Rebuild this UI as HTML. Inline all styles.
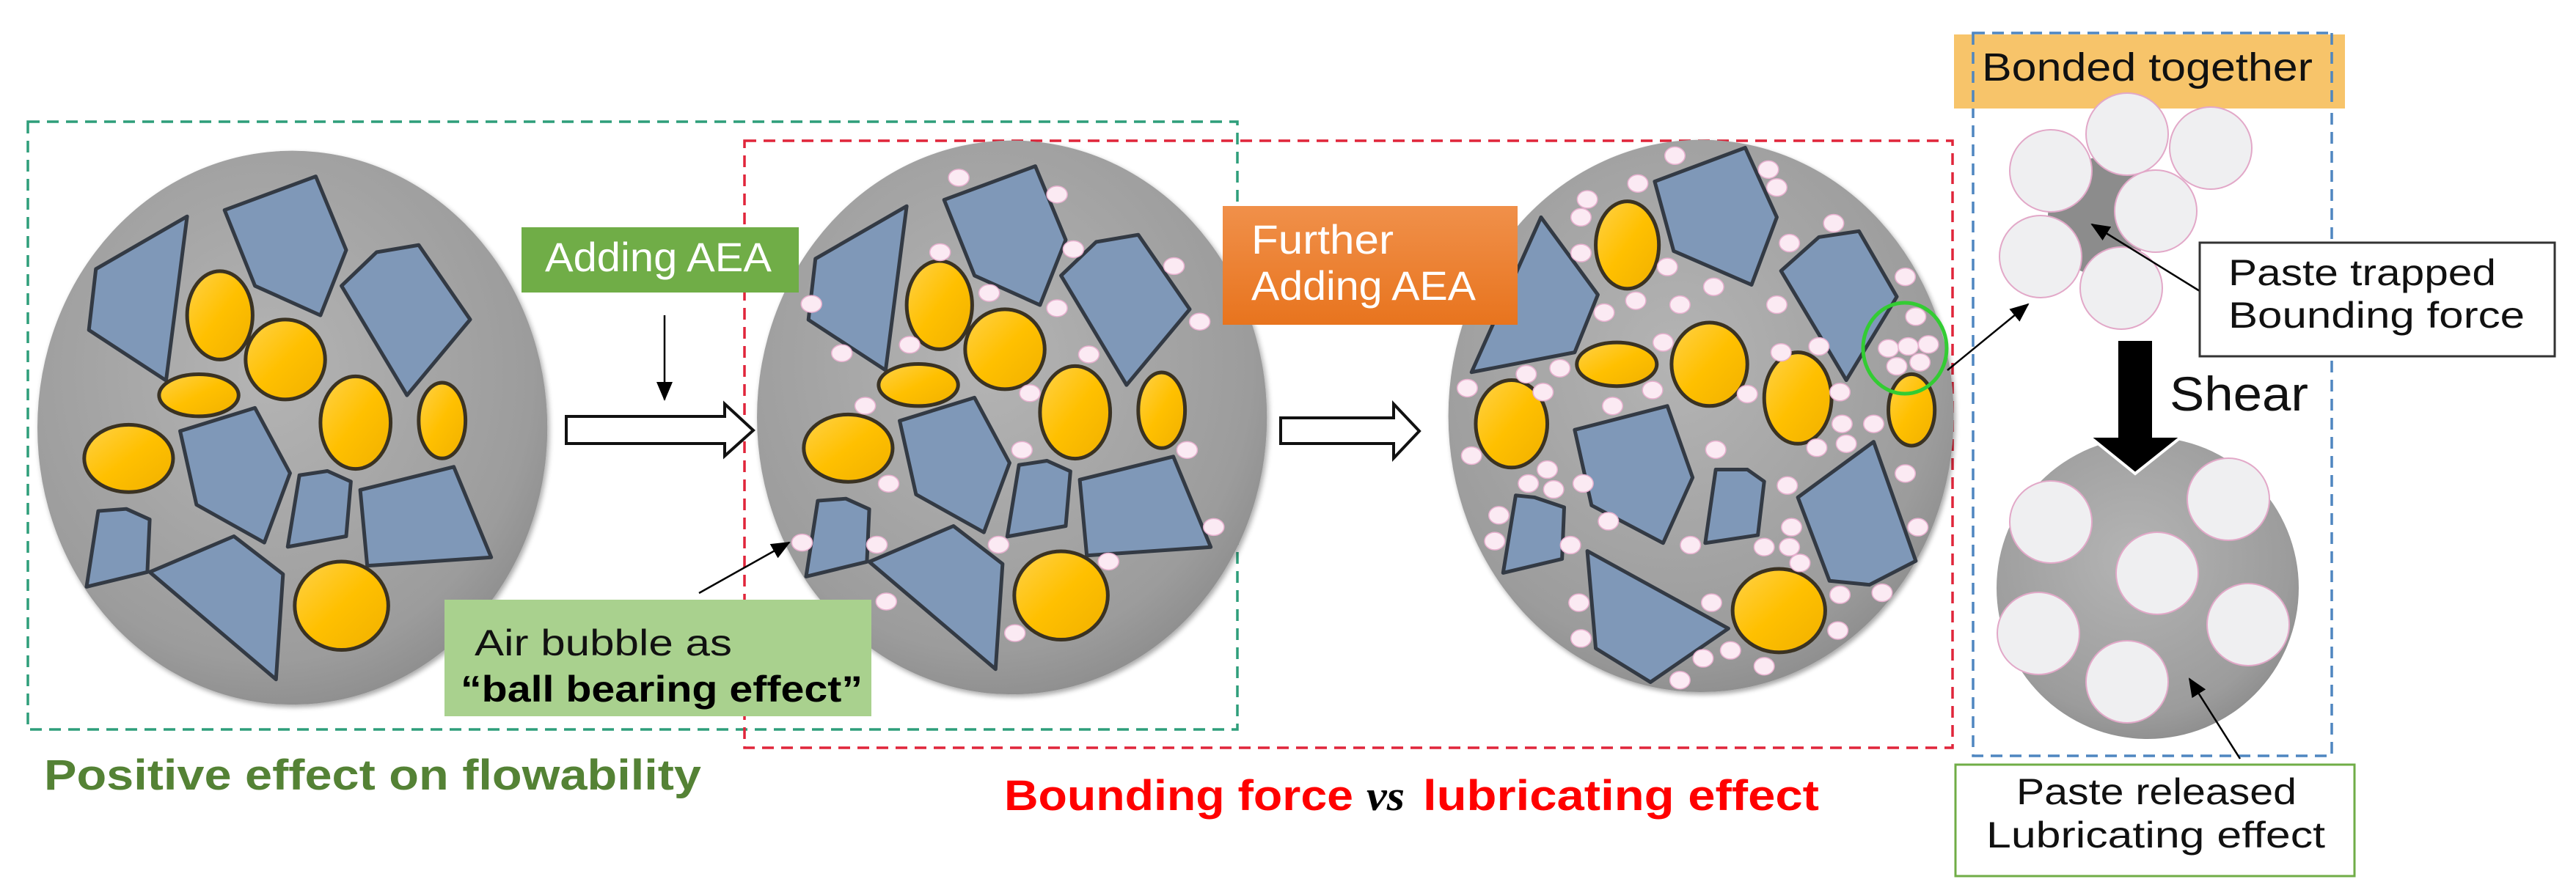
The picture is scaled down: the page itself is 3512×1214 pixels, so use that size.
<!DOCTYPE html>
<html><head><meta charset="utf-8"><style>
html,body{margin:0;padding:0;background:#fff;}
svg{display:block;}
svg *{vector-effect:non-scaling-stroke;}
text{font-family:"Liberation Sans",sans-serif;}
.bl{fill:#7f98b8;stroke:#333a44;stroke-width:5;stroke-linejoin:round;}
.ye{fill:url(#yel);stroke:#3a3222;stroke-width:5;}
.bu{fill:#fbeaf3;stroke:#e8b0cf;stroke-width:1.5;}
.pc{fill:#efeff1;stroke:#e2a8c8;stroke-width:2;}
</style></head><body>
<svg width="3512" height="1214" viewBox="0 0 3512 1214" xmlns="http://www.w3.org/2000/svg">
<defs>
<radialGradient id="gray" cx="0.45" cy="0.4" r="0.65">
<stop offset="0" stop-color="#b4b4b4"/><stop offset="0.8" stop-color="#9c9c9c"/><stop offset="1" stop-color="#8a8a8a"/>
</radialGradient>
<linearGradient id="yel" x1="0" y1="0" x2="1" y2="1">
<stop offset="0" stop-color="#ffd24a"/><stop offset="0.5" stop-color="#ffc000"/><stop offset="1" stop-color="#f0b000"/>
</linearGradient>
<linearGradient id="org" x1="0" y1="0" x2="0" y2="1">
<stop offset="0" stop-color="#f0904a"/><stop offset="1" stop-color="#e8741e"/>
</linearGradient>
<filter id="sh" x="-10%" y="-10%" width="130%" height="130%"><feGaussianBlur in="SourceAlpha" stdDeviation="6"/><feOffset dx="4" dy="6"/><feComponentTransfer><feFuncA type="linear" slope="0.35"/></feComponentTransfer><feMerge><feMergeNode/><feMergeNode in="SourceGraphic"/></feMerge></filter>
<marker id="ahb" markerWidth="26" markerHeight="22" refX="24" refY="11" orient="auto" markerUnits="userSpaceOnUse"><path d="M0,0 L26,11 L0,22 z" fill="#000"/></marker>
</defs>

<rect x="38" y="166" width="1649" height="829" fill="none" stroke="#2e9e7a" stroke-width="3.5" stroke-dasharray="16,10"/>
<rect x="1015" y="192" width="1647" height="828" fill="none" stroke="#e0253a" stroke-width="3.5" stroke-dasharray="16,10"/>
<rect x="2690" y="45" width="489" height="986" fill="none" stroke="#4f86c0" stroke-width="3.5" stroke-dasharray="16,10"/>

<g id="c1" transform="translate(0,100) scale(0.6378,0.5741)">
<ellipse cx="625" cy="842" rx="545" ry="658" fill="url(#gray)" filter="url(#sh)"/>
<polygon class="bl" points="205,465 400,340 355,730 190,610"/>
<polygon class="bl" points="480,325 675,245 740,420 685,575 545,505"/>
<polygon class="bl" points="730,505 805,425 895,408 1005,585 870,765"/>
<polygon class="bl" points="385,850 545,795 620,950 565,1115 420,1025"/>
<polygon class="bl" points="640,955 700,945 750,970 740,1100 615,1125"/>
<polygon class="bl" points="770,990 970,935 1050,1150 785,1170"/>
<polygon class="bl" points="210,1040 270,1035 320,1060 315,1185 185,1220"/>
<polygon class="bl" points="320,1185 500,1100 605,1190 590,1440"/>
<ellipse class="ye" cx="470" cy="575" rx="70" ry="105"/>
<ellipse class="ye" cx="610" cy="680" rx="85" ry="95"/>
<ellipse class="ye" cx="425" cy="765" rx="85" ry="50"/>
<ellipse class="ye" cx="275" cy="915" rx="95" ry="80"/>
<ellipse class="ye" cx="760" cy="830" rx="75" ry="110"/>
<ellipse class="ye" cx="945" cy="825" rx="50" ry="90"/>
<ellipse class="ye" cx="730" cy="1265" rx="100" ry="105"/>
</g>

<use href="#c1" transform="translate(981,-14)"/>
<g transform="translate(950,100) scale(0.6378,0.5741)">
<ellipse class="bu" cx="560" cy="248" rx="22" ry="20"/>
<ellipse class="bu" cx="770" cy="288" rx="22" ry="20"/>
<ellipse class="bu" cx="520" cy="425" rx="22" ry="20"/>
<ellipse class="bu" cx="805" cy="418" rx="22" ry="20"/>
<ellipse class="bu" cx="245" cy="548" rx="22" ry="20"/>
<ellipse class="bu" cx="625" cy="522" rx="22" ry="20"/>
<ellipse class="bu" cx="770" cy="558" rx="22" ry="20"/>
<ellipse class="bu" cx="1020" cy="458" rx="22" ry="20"/>
<ellipse class="bu" cx="1075" cy="590" rx="22" ry="20"/>
<ellipse class="bu" cx="310" cy="665" rx="22" ry="20"/>
<ellipse class="bu" cx="455" cy="645" rx="22" ry="20"/>
<ellipse class="bu" cx="838" cy="668" rx="22" ry="20"/>
<ellipse class="bu" cx="712" cy="760" rx="22" ry="20"/>
<ellipse class="bu" cx="360" cy="790" rx="22" ry="20"/>
<ellipse class="bu" cx="695" cy="895" rx="22" ry="20"/>
<ellipse class="bu" cx="1048" cy="895" rx="22" ry="20"/>
<ellipse class="bu" cx="410" cy="975" rx="22" ry="20"/>
<ellipse class="bu" cx="225" cy="1115" rx="22" ry="20"/>
<ellipse class="bu" cx="385" cy="1120" rx="22" ry="20"/>
<ellipse class="bu" cx="645" cy="1120" rx="22" ry="20"/>
<ellipse class="bu" cx="880" cy="1160" rx="22" ry="20"/>
<ellipse class="bu" cx="1105" cy="1078" rx="22" ry="20"/>
<ellipse class="bu" cx="405" cy="1255" rx="22" ry="20"/>
<ellipse class="bu" cx="680" cy="1330" rx="22" ry="20"/>
</g>

<g transform="translate(1900,150) scale(0.5741,0.542)">
<ellipse cx="730" cy="770" rx="600" ry="695" fill="url(#gray)" filter="url(#sh)"/>
<polygon class="bl" points="350,270 485,465 430,610 185,660"/>
<polygon class="bl" points="620,180 835,95 910,270 850,440 665,355"/>
<polygon class="bl" points="920,405 1010,320 1105,305 1195,470 1075,680"/>
<polygon class="bl" points="430,805 650,745 710,925 640,1090 470,995"/>
<polygon class="bl" points="765,905 840,905 880,935 865,1070 740,1090"/>
<polygon class="bl" points="960,975 1140,835 1240,1135 1130,1195 1035,1185"/>
<polygon class="bl" points="290,970 335,975 405,1000 400,1130 260,1165"/>
<polygon class="bl" points="460,1110 795,1305 610,1440 480,1355"/>
<ellipse class="ye" cx="555" cy="340" rx="75" ry="110"/>
<ellipse class="ye" cx="530" cy="640" rx="95" ry="55"/>
<ellipse class="ye" cx="750" cy="640" rx="90" ry="105"/>
<ellipse class="ye" cx="280" cy="790" rx="85" ry="110"/>
<ellipse class="ye" cx="960" cy="725" rx="80" ry="115"/>
<ellipse class="ye" cx="1230" cy="755" rx="55" ry="90"/>
<ellipse class="ye" cx="915" cy="1260" rx="110" ry="105"/>
<ellipse class="bu" cx="668" cy="115" rx="24" ry="22"/>
<ellipse class="bu" cx="580" cy="185" rx="24" ry="22"/>
<ellipse class="bu" cx="890" cy="150" rx="24" ry="22"/>
<ellipse class="bu" cx="910" cy="195" rx="24" ry="22"/>
<ellipse class="bu" cx="460" cy="225" rx="24" ry="22"/>
<ellipse class="bu" cx="445" cy="270" rx="24" ry="22"/>
<ellipse class="bu" cx="1045" cy="285" rx="24" ry="22"/>
<ellipse class="bu" cx="940" cy="335" rx="24" ry="22"/>
<ellipse class="bu" cx="445" cy="360" rx="24" ry="22"/>
<ellipse class="bu" cx="650" cy="395" rx="24" ry="22"/>
<ellipse class="bu" cx="760" cy="445" rx="24" ry="22"/>
<ellipse class="bu" cx="575" cy="480" rx="24" ry="22"/>
<ellipse class="bu" cx="680" cy="490" rx="24" ry="22"/>
<ellipse class="bu" cx="500" cy="510" rx="24" ry="22"/>
<ellipse class="bu" cx="910" cy="490" rx="24" ry="22"/>
<ellipse class="bu" cx="1215" cy="420" rx="24" ry="22"/>
<ellipse class="bu" cx="1240" cy="520" rx="24" ry="22"/>
<ellipse class="bu" cx="640" cy="585" rx="24" ry="22"/>
<ellipse class="bu" cx="920" cy="610" rx="24" ry="22"/>
<ellipse class="bu" cx="1010" cy="595" rx="24" ry="22"/>
<ellipse class="bu" cx="1175" cy="600" rx="24" ry="22"/>
<ellipse class="bu" cx="1222" cy="595" rx="24" ry="22"/>
<ellipse class="bu" cx="1270" cy="590" rx="24" ry="22"/>
<ellipse class="bu" cx="1195" cy="645" rx="24" ry="22"/>
<ellipse class="bu" cx="1250" cy="635" rx="24" ry="22"/>
<ellipse class="bu" cx="175" cy="700" rx="24" ry="22"/>
<ellipse class="bu" cx="315" cy="665" rx="24" ry="22"/>
<ellipse class="bu" cx="395" cy="650" rx="24" ry="22"/>
<ellipse class="bu" cx="355" cy="710" rx="24" ry="22"/>
<ellipse class="bu" cx="615" cy="705" rx="24" ry="22"/>
<ellipse class="bu" cx="840" cy="715" rx="24" ry="22"/>
<ellipse class="bu" cx="1060" cy="710" rx="24" ry="22"/>
<ellipse class="bu" cx="520" cy="745" rx="24" ry="22"/>
<ellipse class="bu" cx="1065" cy="790" rx="24" ry="22"/>
<ellipse class="bu" cx="1140" cy="790" rx="24" ry="22"/>
<ellipse class="bu" cx="1005" cy="850" rx="24" ry="22"/>
<ellipse class="bu" cx="1075" cy="840" rx="24" ry="22"/>
<ellipse class="bu" cx="765" cy="855" rx="24" ry="22"/>
<ellipse class="bu" cx="185" cy="870" rx="24" ry="22"/>
<ellipse class="bu" cx="365" cy="905" rx="24" ry="22"/>
<ellipse class="bu" cx="320" cy="940" rx="24" ry="22"/>
<ellipse class="bu" cx="380" cy="955" rx="24" ry="22"/>
<ellipse class="bu" cx="450" cy="940" rx="24" ry="22"/>
<ellipse class="bu" cx="1215" cy="915" rx="24" ry="22"/>
<ellipse class="bu" cx="935" cy="945" rx="24" ry="22"/>
<ellipse class="bu" cx="250" cy="1020" rx="24" ry="22"/>
<ellipse class="bu" cx="510" cy="1035" rx="24" ry="22"/>
<ellipse class="bu" cx="945" cy="1050" rx="24" ry="22"/>
<ellipse class="bu" cx="1245" cy="1050" rx="24" ry="22"/>
<ellipse class="bu" cx="240" cy="1085" rx="24" ry="22"/>
<ellipse class="bu" cx="420" cy="1095" rx="24" ry="22"/>
<ellipse class="bu" cx="705" cy="1095" rx="24" ry="22"/>
<ellipse class="bu" cx="880" cy="1100" rx="24" ry="22"/>
<ellipse class="bu" cx="940" cy="1100" rx="24" ry="22"/>
<ellipse class="bu" cx="965" cy="1140" rx="24" ry="22"/>
<ellipse class="bu" cx="1060" cy="1220" rx="24" ry="22"/>
<ellipse class="bu" cx="1160" cy="1215" rx="24" ry="22"/>
<ellipse class="bu" cx="440" cy="1240" rx="24" ry="22"/>
<ellipse class="bu" cx="755" cy="1240" rx="24" ry="22"/>
<ellipse class="bu" cx="445" cy="1330" rx="24" ry="22"/>
<ellipse class="bu" cx="1055" cy="1310" rx="24" ry="22"/>
<ellipse class="bu" cx="735" cy="1380" rx="24" ry="22"/>
<ellipse class="bu" cx="800" cy="1360" rx="24" ry="22"/>
<ellipse class="bu" cx="880" cy="1400" rx="24" ry="22"/>
<ellipse class="bu" cx="680" cy="1435" rx="24" ry="22"/>
</g>
<ellipse cx="2597" cy="475" rx="57" ry="62" fill="none" stroke="#33cc33" stroke-width="5"/>
<line x1="2655" y1="505" x2="2765" y2="415" stroke="#000" stroke-width="2.5" marker-end="url(#ahb)"/>

<path d="M772,568 H988 V551 L1027,587 L988,622 V605 H772 Z" fill="#fff" stroke="#111" stroke-width="4"/>
<path d="M1746,570 H1900 V551 L1935,588 L1900,625 V605 H1746 Z" fill="#fff" stroke="#111" stroke-width="4"/>

<rect x="711" y="310" width="378" height="89" fill="#70ad47"/>
<text x="743" y="370" font-size="56" fill="#fff" textLength="309" lengthAdjust="spacingAndGlyphs">Adding AEA</text>
<line x1="906" y1="430" x2="906" y2="545" stroke="#000" stroke-width="2.5" marker-end="url(#ahb)"/>

<rect x="1667" y="281" width="402" height="162" fill="url(#org)"/>
<text x="1706" y="346" font-size="56" fill="#fff" textLength="194" lengthAdjust="spacingAndGlyphs">Further</text>
<text x="1706" y="409" font-size="56" fill="#fff" textLength="306" lengthAdjust="spacingAndGlyphs">Adding AEA</text>

<line x1="953" y1="809" x2="1076" y2="740" stroke="#000" stroke-width="2.5" marker-end="url(#ahb)"/>
<rect x="606" y="818" width="582" height="159" fill="#a9d18e"/>
<text x="647" y="894" font-size="50" fill="#111" textLength="351" lengthAdjust="spacingAndGlyphs">Air bubble as</text>
<text x="628" y="957" font-size="50" font-weight="bold" fill="#000" textLength="548" lengthAdjust="spacingAndGlyphs">“ball bearing effect”</text>

<text x="60" y="1077" font-size="58" font-weight="bold" fill="#548235" textLength="896" lengthAdjust="spacingAndGlyphs">Positive effect on flowability</text>
<text x="1369" y="1105" font-size="58" font-weight="bold" fill="#ff0000" textLength="476" lengthAdjust="spacingAndGlyphs">Bounding force</text>
<text x="1863" y="1105" font-size="58" font-weight="bold" font-style="italic" fill="#000" style="font-family:'Liberation Serif',serif" textLength="52" lengthAdjust="spacingAndGlyphs">vs</text>
<text x="1940" y="1105" font-size="58" font-weight="bold" fill="#ff0000" textLength="540" lengthAdjust="spacingAndGlyphs">lubricating effect</text>

<rect x="2664" y="47" width="533" height="101" fill="#f7c46a"/>
<line x1="2690" y1="45" x2="2690" y2="148" stroke="#4f86c0" stroke-width="3.5" stroke-dasharray="16,10"/>
<line x1="3179" y1="45" x2="3179" y2="148" stroke="#4f86c0" stroke-width="3.5" stroke-dasharray="16,10"/>
<text x="2702" y="110" font-size="54" fill="#111" textLength="451" lengthAdjust="spacingAndGlyphs">Bonded together</text>

<ellipse cx="2862" cy="295" rx="70" ry="80" fill="#8c8c8c"/>
<circle class="pc" cx="2900" cy="183" r="56"/>
<circle class="pc" cx="3014" cy="202" r="56"/>
<circle class="pc" cx="2796" cy="233" r="56"/>
<circle class="pc" cx="2939" cy="288" r="56"/>
<circle class="pc" cx="2782" cy="350" r="56"/>
<circle class="pc" cx="2892" cy="393" r="56"/>
<line x1="2999" y1="397" x2="2852" y2="306" stroke="#000" stroke-width="2.5" marker-end="url(#ahb)"/>
<rect x="2999" y="331" width="484" height="155" fill="#fff" stroke="#333" stroke-width="3"/>
<text x="3038" y="389" font-size="50" fill="#111" textLength="365" lengthAdjust="spacingAndGlyphs">Paste trapped</text>
<text x="3038" y="447" font-size="50" fill="#111" textLength="404" lengthAdjust="spacingAndGlyphs">Bounding force</text>

<ellipse cx="2928" cy="802" rx="206" ry="206" fill="url(#gray)"/>
<path d="M2886,463 H2936 V595 H2975 L2911,646 L2848,595 H2886 Z" fill="#000" stroke="#fff" stroke-width="4"/>
<text x="2958" y="560" font-size="66" fill="#111" textLength="189" lengthAdjust="spacingAndGlyphs">Shear</text>
<circle class="pc" cx="2796" cy="712" r="56"/>
<circle class="pc" cx="3038" cy="681" r="56"/>
<circle class="pc" cx="2941" cy="782" r="56"/>
<circle class="pc" cx="2779" cy="864" r="56"/>
<circle class="pc" cx="3065" cy="852" r="56"/>
<circle class="pc" cx="2900" cy="930" r="56"/>
<line x1="3054" y1="1035" x2="2985" y2="926" stroke="#000" stroke-width="2.5" marker-end="url(#ahb)"/>
<rect x="2666" y="1043" width="544" height="152" fill="#fff" stroke="#70ad47" stroke-width="3"/>
<text x="2749" y="1097" font-size="50" fill="#111" textLength="382" lengthAdjust="spacingAndGlyphs">Paste released</text>
<text x="2708" y="1156" font-size="50" fill="#111" textLength="462" lengthAdjust="spacingAndGlyphs">Lubricating effect</text>
</svg>
</body></html>
